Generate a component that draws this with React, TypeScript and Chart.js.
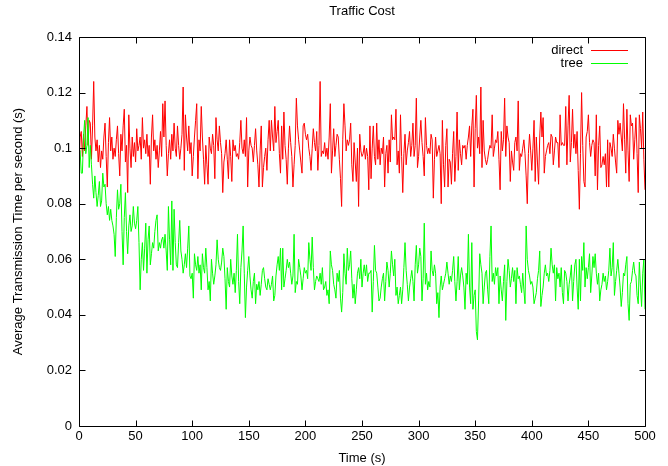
import React, { useEffect, useRef } from "react";
import { Chart, registerables } from "chart.js";

Chart.register(...registerables);

const TITLE = "Traffic Cost";
const X_TITLE = "Time (s)";
const Y_TITLE = "Average Transmission Time per second (s)";
const SERIES_LABELS = ["direct", "tree"];
const SERIES_COLORS = ["#ff0000", "#00ff00"];
const X_MIN = 0;
const X_MAX = 500;
const X_STEP = 50;
const TIME_STEP = 1;
const Y_MIN = 0;
const Y_MAX = 0.14;
const Y_STEP = 0.02;

// average transmission time, in milliseconds, one value per second (t = 0..500)
const DIRECT_MS = [
  92,104,106,97,105,99,108,115,101,110,
  109,96,108,124,104,99,103,95,101,93,
  99,96,104,109,97,86,102,111,99,104,
  96,100,97,103,108,98,90,105,99,108,
  114,95,101,84,112,100,93,104,97,102,
  95,107,99,101,104,96,111,100,103,98,
  105,97,101,87,104,112,99,103,96,101,
  93,99,106,97,116,104,117,101,90,98,
  103,96,105,99,109,100,97,108,101,96,
  100,105,122,92,112,104,99,108,98,102,
  90,97,104,110,116,89,103,99,115,104,
  96,87,101,94,87,104,100,98,105,101,
  89,111,103,99,108,102,98,84,95,98,
  103,96,89,103,97,88,103,99,101,97,
  98,96,102,110,100,98,103,97,111,86,
  99,104,101,100,95,101,107,99,94,86,
  99,108,86,93,97,100,92,103,110,99,
  110,104,99,115,102,106,110,98,91,108,
  96,113,101,96,87,100,108,102,97,86,
  94,101,118,108,103,99,95,91,108,109,
  105,103,105,100,97,92,100,107,102,99,
  106,92,101,124,97,99,98,102,97,100,
  96,104,116,91,99,107,97,101,105,104,
  96,89,79,103,116,108,99,103,101,103,
  109,94,88,102,95,88,100,79,105,99,
  97,98,101,96,100,97,85,108,89,100,
  108,97,94,109,96,103,94,100,98,104,
  86,98,101,91,103,95,112,103,104,103,
  114,94,99,91,112,97,84,98,105,94,
  99,102,106,97,101,109,97,101,118,93,
  97,104,110,102,97,90,111,101,98,100,
  98,105,103,82,96,104,97,99,101,98,
  80,110,94,86,101,107,86,96,95,87,
  98,106,88,97,113,92,103,98,94,101,
  100,101,96,101,104,108,97,108,114,86,
  107,119,100,104,98,122,93,110,99,96,
  94,96,99,101,100,112,97,100,103,102,
  106,96,85,106,99,103,118,97,108,104,
  102,88,99,95,92,102,104,99,117,92,
  98,97,100,103,98,90,80,98,105,99,
  92,100,110,88,104,95,87,104,113,104,
  111,91,97,99,101,102,98,105,104,94,
  99,104,102,102,93,112,101,102,101,101,
  115,94,108,119,95,102,114,100,105,98,
  106,92,78,98,120,101,88,86,104,106,
  112,102,97,101,103,102,90,112,85,101,
  108,93,94,97,94,98,86,103,86,102,
  100,97,105,100,95,91,110,105,109,104,
  99,116,103,91,114,99,88,112,108,109,
  96,103,111,98,84,112,107,100,113,96,
  85,
];

const TREE_MS = [
  100,99,91,91,104,110,98,101,111,93,
  101,94,87,82,90,84,79,83,88,79,
  81,91,86,87,80,76,79,74,78,74,
  72,69,61,75,85,78,80,87,70,58,
  75,84,70,62,72,76,70,72,79,73,
  71,74,79,66,49,60,66,56,64,73,
  55,67,72,58,62,66,64,70,74,76,
  63,66,64,67,68,64,69,63,56,79,
  67,58,81,56,78,66,58,57,66,74,
  63,60,55,58,62,57,64,72,54,53,
  55,46,62,58,56,61,55,58,49,62,
  57,55,64,57,49,52,45,60,55,51,
  54,58,67,60,57,56,59,64,61,53,
  42,57,52,50,60,54,51,55,48,56,
  69,52,44,57,63,72,55,39,50,56,
  61,54,49,46,52,55,44,51,49,52,
  47,51,56,57,53,50,49,53,51,49,
  51,54,45,47,54,58,61,56,64,49,
  64,50,53,56,60,57,59,55,51,54,
  69,48,52,51,60,57,54,49,53,57,
  55,56,53,66,60,56,68,57,49,52,
  54,53,52,55,51,57,49,50,52,47,
  49,44,63,58,56,51,49,46,55,52,
  56,46,41,48,62,55,51,64,56,58,
  63,53,46,51,44,49,55,57,53,60,
  50,55,58,54,58,52,55,55,56,41,
  52,65,56,55,50,45,46,50,53,55,
  45,52,59,56,50,55,63,58,54,60,
  47,50,44,47,50,44,49,57,66,56,
  51,45,50,53,56,52,45,58,65,55,
  58,64,61,45,53,73,51,55,49,52,
  50,63,56,54,58,55,44,48,39,50,
  54,49,51,53,55,59,55,51,54,52,
  56,61,52,45,52,61,49,54,57,54,
  50,42,55,51,69,50,44,66,42,47,
  49,34,31,45,62,58,55,44,50,55,
  56,49,44,61,72,52,55,51,57,54,
  57,44,54,49,45,52,58,38,52,60,
  56,50,53,57,52,56,44,57,53,54,
  51,48,55,49,44,72,60,56,54,51,
  52,50,44,46,48,53,56,63,43,47,
  50,55,58,54,55,52,56,64,58,55,
  58,45,57,53,55,50,57,48,44,56,
  55,52,45,51,54,58,45,52,58,60,
  50,42,60,45,61,56,66,50,57,53,
  57,62,48,54,61,57,62,55,51,55,
  45,49,51,55,52,54,49,52,56,64,
  54,57,66,47,52,56,60,55,50,43,
  48,55,54,58,61,44,38,51,52,56,
  59,55,54,47,44,59,50,43,55,60,
  42,
];

const SERIES_MS = [DIRECT_MS, TREE_MS];

const FONT = "'Liberation Sans', Arial, Helvetica, sans-serif";
const FONT_SIZE = 13;
const TICK_LEN = 6;

const gnuplotFrame = {
  id: "gnuplotFrame",
  afterDatasetsDraw(chart: any) {
    const { ctx, chartArea: a, scales } = chart;
    const L = Math.floor(a.left) + 0.5;
    const R = Math.floor(a.right) + 0.5;
    const T = Math.floor(a.top) + 0.5;
    const B = Math.floor(a.bottom) + 0.5;
    ctx.save();
    ctx.strokeStyle = "#000";
    ctx.lineWidth = 1;
    ctx.beginPath();
    ctx.rect(L, T, R - L, B - T);
    for (const t of scales.x.ticks) {
      const x = Math.round(scales.x.getPixelForValue(t.value)) + 0.5;
      ctx.moveTo(x, B);
      ctx.lineTo(x, B - TICK_LEN);
      ctx.moveTo(x, T);
      ctx.lineTo(x, T + TICK_LEN);
    }
    for (const t of scales.y.ticks) {
      const y = Math.round(scales.y.getPixelForValue(t.value)) + 0.5;
      ctx.moveTo(L, y);
      ctx.lineTo(L + TICK_LEN, y);
      ctx.moveTo(R, y);
      ctx.lineTo(R - TICK_LEN, y);
    }
    ctx.stroke();

    // gnuplot-style key, top right inside the plot
    ctx.font = `${FONT_SIZE}px ${FONT}`;
    ctx.textAlign = "right";
    ctx.textBaseline = "middle";
    chart.data.datasets.forEach((ds: any, i: number) => {
      const y = a.top + 13 + i * 13.3;
      ctx.fillStyle = "#000";
      ctx.fillText(ds.label, a.right - 62, y);
      ctx.strokeStyle = ds.borderColor;
      ctx.beginPath();
      ctx.moveTo(a.right - 54, Math.round(y) + 0.5);
      ctx.lineTo(a.right - 17, Math.round(y) + 0.5);
      ctx.stroke();
    });
    ctx.restore();
  },
};

export default function App() {
  const canvasRef = useRef<HTMLCanvasElement | null>(null);

  useEffect(() => {
    const canvas = canvasRef.current;
    if (!canvas) return;
    const datasets = SERIES_MS.map((vals, si) => ({
      label: SERIES_LABELS[si],
      data: vals.map((v, i) => ({ x: X_MIN + i * TIME_STEP, y: v / 1000 })),
      borderColor: SERIES_COLORS[si],
      backgroundColor: SERIES_COLORS[si],
      borderWidth: 1,
      pointRadius: 0,
      tension: 0,
      fill: false,
      order: si === 0 ? 1 : 0,
    }));

    const chart = new Chart(canvas, {
      type: "line",
      data: { datasets },
      options: {
        animation: false,
        responsive: false,
        devicePixelRatio: 1,
        events: [],
        layout: { padding: { left: 0, right: 23, top: 0, bottom: 0 } },
        plugins: {
          legend: { display: false },
          tooltip: { enabled: false },
          title: {
            display: true,
            text: TITLE,
            fullSize: false,
            color: "#000",
            font: { family: FONT, size: FONT_SIZE, weight: "normal" },
            padding: { top: 4, bottom: 17.4 },
          },
        },
        scales: {
          x: {
            type: "linear",
            min: X_MIN,
            max: X_MAX,
            grid: { display: false, drawTicks: false },
            border: { display: false },
            ticks: {
              stepSize: X_STEP,
              color: "#000",
              font: { family: FONT, size: FONT_SIZE },
              padding: 3,
              maxRotation: 0,
              autoSkip: false,
            },
            title: {
              display: true,
              text: X_TITLE,
              color: "#000",
              font: { family: FONT, size: FONT_SIZE },
              padding: { top: 0, bottom: 0 },
            },
            afterFit(s: any) {
              s.height = 40;
            },
          },
          y: {
            type: "linear",
            min: Y_MIN,
            max: Y_MAX,
            grid: { display: false, drawTicks: false },
            border: { display: false },
            ticks: {
              stepSize: Y_STEP,
              color: "#000",
              font: { family: FONT, size: FONT_SIZE },
              padding: 7,
              callback: (v: any) => String(Number(Number(v).toFixed(2))),
            },
            title: {
              display: true,
              text: Y_TITLE,
              color: "#000",
              font: { family: FONT, size: FONT_SIZE },
              padding: { top: 11, bottom: 0 },
            },
            afterFit(s: any) {
              s.width = 79;
            },
          },
        },
      },
      plugins: [gnuplotFrame],
    });
    return () => chart.destroy();
  }, []);

  return (
    <canvas
      ref={canvasRef}
      width={668}
      height={466}
      style={{ position: "absolute", left: 0, top: 0, width: 668, height: 466, display: "block" }}
    />
  );
}
